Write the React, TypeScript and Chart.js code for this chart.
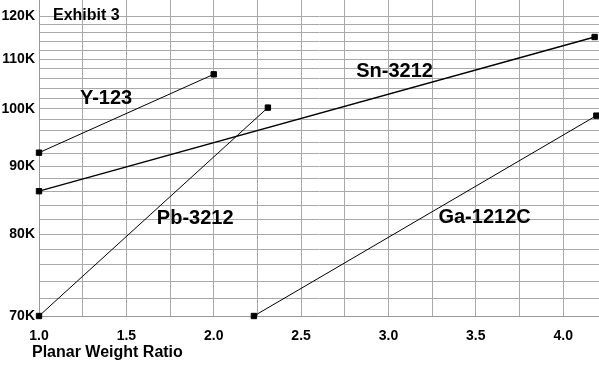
import React, { useEffect, useRef } from "react";
import { Chart, registerables, LinearScale } from "chart.js";

Chart.register(...registerables);

// ---- data ----
const seriesNames = ["Y-123", "Sn-3212", "Pb-3212", "Ga-1212C"];
const y123X = [1.0, 2.0];
const y123T = [92.2, 106.8];
const sn3212X = [1.0, 4.18];
const sn3212T = [86.1, 115.0];
const pb3212X = [1.0, 2.31];
const pb3212T = [70.0, 100.2];
const ga1212cX = [2.23, 4.19];
const ga1212cT = [70.0, 98.7];

// series label anchor positions (data units)
const labelX = [1.384, 3.035, 1.894, 3.55];
const labelT = [101.95, 107.3, 82.2, 82.3];

// axis ticks
const xGridValues = [1.0, 1.25, 1.5, 1.75, 2.0, 2.25, 2.5, 2.75, 3.0, 3.25, 3.5, 3.75, 4.0];
const xLabelValues = [1.0, 1.5, 2.0, 2.5, 3.0, 3.5, 4.0];
const yGridValues = [70, 72, 74, 76, 78, 80, 82, 84, 86, 88, 90, 92, 94, 96, 98, 100, 102, 104, 106, 108, 110, 112, 114, 116, 118, 120];
const yLabelValues = [70, 80, 90, 100, 110, 120];

const FONT = "'Liberation Sans', Arial, Helvetica, sans-serif";

// Scale with position proportional to -1/sqrt(T)
const f = (t: number) => -1 / Math.sqrt(t);
const finv = (u: number) => 1 / (u * u);

class InvSqrtScale extends LinearScale {
  static id = "invsqrt";
  static defaults = LinearScale.defaults;
  configure() {
    super.configure();
    const s = f((this as any).min);
    const e = f((this as any).max);
    (this as any)._startValue = s;
    (this as any)._endValue = e;
    (this as any)._valueRange = e - s;
  }
  getPixelForValue(value: any) {
    if (value === null || value === undefined) return NaN;
    const self = this as any;
    return self.getPixelForDecimal((f(value) - self._startValue) / self._valueRange);
  }
  getValueForPixel(pixel: number) {
    const self = this as any;
    return finv(self._startValue + self.getDecimalForPixel(pixel) * self._valueRange);
  }
}
Chart.register(InvSqrtScale as any);

const toPts = (xs: number[], ys: number[]) => xs.map((x, i) => ({ x, y: ys[i] }));

const textPlugin = {
  id: "texts",
  afterDatasetsDraw(chart: any) {
    const { ctx, scales } = chart;
    const x = scales.x;
    const y = scales.y;
    ctx.save();
    ctx.fillStyle = "#000";
    ctx.textBaseline = "middle";
    ctx.textAlign = "center";
    ctx.font = `bold 20px ${FONT}`;
    seriesNames.forEach((n, i) => {
      ctx.fillText(n, x.getPixelForValue(labelX[i]), y.getPixelForValue(labelT[i]));
    });
    ctx.textAlign = "left";
    ctx.font = `bold 16px ${FONT}`;
    ctx.fillText("Exhibit 3", 53, 16);
    ctx.fillText("Planar Weight Ratio", 32, 353);
    ctx.restore();
  },
};

export default function App() {
  const ref = useRef<HTMLCanvasElement>(null);
  useEffect(() => {
    const canvas = ref.current!;
    Chart.defaults.font.family = FONT;
    const mk = (xs: number[], ys: number[], w: number) => ({
      data: toPts(xs, ys),
      showLine: true,
      clip: false,
      borderColor: "#000",
      borderWidth: w,
      pointStyle: "rect",
      pointRadius: 3.8,
      pointBackgroundColor: "#000",
      pointBorderColor: "#000",
      pointBorderWidth: 1,
    });
    const chart = new Chart(canvas, {
      type: "scatter",
      data: {
        datasets: [
          mk(y123X, y123T, 1),
          mk(sn3212X, sn3212T, 1.3),
          mk(pb3212X, pb3212T, 1),
          mk(ga1212cX, ga1212cT, 1),
        ] as any,
      },
      options: {
        animation: false,
        responsive: false,
        devicePixelRatio: 1,
        layout: { padding: 0, autoPadding: false },
        plugins: { legend: { display: false }, tooltip: { enabled: false } },
        scales: {
          x: {
            type: "linear",
            min: 1.0,
            max: 4.205,
            afterBuildTicks: (s: any) => {
              s.ticks = xGridValues.map((v) => ({ value: v }));
            },
            afterFit: (s: any) => {
              s.height = 49;
              s.paddingLeft = 0;
              s.paddingRight = 0;
            },
            ticks: {
              autoSkip: false,
              maxRotation: 0,
              padding: 12,
              color: "#000",
              font: { family: FONT, size: 14, weight: "bold" },
              callback: (v: any) => (xLabelValues.includes(v) ? Number(v).toFixed(1) : ""),
            },
            grid: { color: "#a9a9a9", lineWidth: 1, drawTicks: false },
            border: { color: "#999", width: 1 },
          },
          y: {
            type: "invsqrt" as any,
            min: 70,
            max: 124.1,
            afterBuildTicks: (s: any) => {
              s.ticks = yGridValues.map((v) => ({ value: v }));
            },
            afterFit: (s: any) => {
              s.width = 39;
              s.paddingTop = 0;
              s.paddingBottom = 0;
            },
            ticks: {
              autoSkip: false,
              padding: 4,
              color: "#000",
              font: { family: FONT, size: 14, weight: "bold" },
              callback: (v: any) => (yLabelValues.includes(v) ? `${v}K` : ""),
            },
            grid: { color: "#a9a9a9", lineWidth: 1, drawTicks: false },
            border: { color: "#999", width: 1 },
          },
        },
      } as any,
      plugins: [textPlugin],
    });
    return () => chart.destroy();
  }, []);
  return (
    <div style={{ position: "fixed", left: 0, top: 0, width: 599, height: 365, background: "#fff" }}>
      <canvas ref={ref} width={599} height={365} style={{ display: "block" }} />
    </div>
  );
}
